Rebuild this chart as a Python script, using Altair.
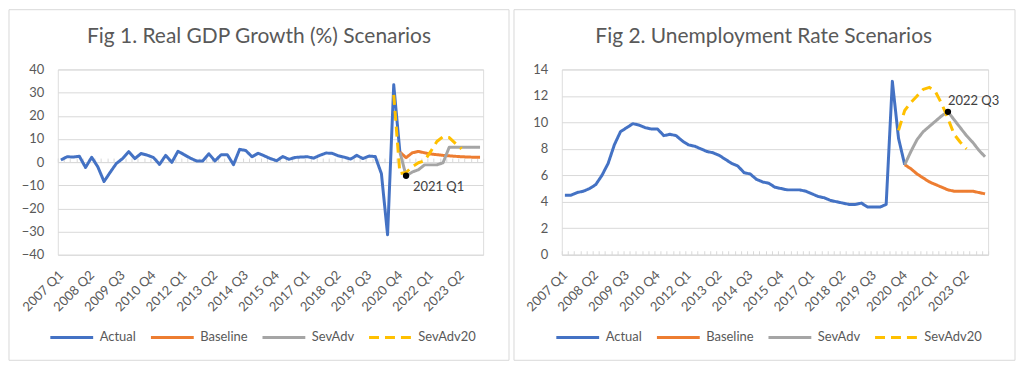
import altair as alt
import pandas as pd

# ---------------- data ----------------
quarters = [f"{y} Q{q}" for y in range(2007, 2025) for q in range(1, 5)][:69]
series_names = ["Actual", "Baseline", "SevAdv", "SevAdv20"]
series_colors = ["#4472C4", "#ED7D31", "#A5A5A5", "#FFC000"]

gdp_actual = [
    0.9, 2.3, 2.2, 2.5,
    -2.3, 2.1, -2.1, -8.4,
    -4.4, -0.6, 1.5, 4.5,
    1.5, 3.7, 3.0, 2.0,
    -1.0, 2.9, -0.1, 4.7,
    3.2, 1.7, 0.5, 0.5,
    3.6, 0.5, 3.2, 3.2,
    -1.1, 5.5, 5.0, 2.3,
    3.8, 2.7, 1.5, 0.6,
    2.4, 1.2, 2.0, 2.2,
    2.3, 1.7, 2.9, 3.9,
    3.8, 2.7, 2.1, 1.3,
    2.9, 1.5, 2.6, 2.4,
    -5.0, -31.4, 33.4, 4.3,
]
gdp_baseline = [4.3, 1.9, 4.0, 4.6, 4.0, 3.5, 3.2, 2.9, 2.7, 2.5, 2.3, 2.2, 2.1, 2.1]
gdp_sevadv = [4.3, -5.9, -4.3, -3.3, -1.2, -1.2, -1.2, -0.3, 6.4, 6.4, 6.4, 6.4, 6.4, 6.4]
gdp_sevadv20 = [29.0, -5.0, -4.5, -2.0, -0.3, 0.6, 4.6, 8.9, 11.0, 10.6, 8.1, 5.7]

ur_actual = [
    4.5, 4.5, 4.7, 4.8,
    5.0, 5.3, 6.0, 6.9,
    8.3, 9.3, 9.6, 9.9,
    9.8, 9.6, 9.5, 9.5,
    9.0, 9.1, 9.0, 8.6,
    8.3, 8.2, 8.0, 7.8,
    7.7, 7.5, 7.2, 6.9,
    6.7, 6.2, 6.1, 5.7,
    5.5, 5.4, 5.1, 5.0,
    4.9, 4.9, 4.9, 4.8,
    4.6, 4.4, 4.3, 4.1,
    4.0, 3.9, 3.8, 3.8,
    3.9, 3.6, 3.6, 3.6,
    3.8, 13.1, 8.8, 6.8,
]
ur_baseline = [6.8, 6.5, 6.1, 5.8, 5.5, 5.3, 5.1, 4.9, 4.8, 4.8, 4.8, 4.8, 4.7, 4.6]
ur_sevadv = [6.8, 7.8, 8.7, 9.3, 9.7, 10.1, 10.5, 10.8, 10.2, 9.6, 9.0, 8.5, 7.9, 7.4]
ur_sevadv20 = [9.4, 10.9, 11.5, 12.0, 12.5, 12.65, 12.3, 11.4, 10.3, 9.1, 8.5, 8.0]

start_actual, start_scen, start_scen20 = 0, 55, 54
tick_labels = quarters[::5]

FONT = "Lato"
TXT = "#595959"
GRID = "#D9D9D9"


def build(actual, baseline, sevadv, sevadv20):
    rows = []
    for name, vals, s in [("Actual", actual, start_actual), ("Baseline", baseline, start_scen),
                          ("SevAdv", sevadv, start_scen), ("SevAdv20", sevadv20, start_scen20)]:
        for k, v in enumerate(vals):
            rows.append({"idx": s + k, "quarter": quarters[s + k], "series": name, "value": v})
    return pd.DataFrame(rows)


label_expr = "[" + ",".join(f"'{q}'" for q in quarters) + "][datum.value]"
xscale = alt.Scale(domain=[-0.5, len(quarters) - 0.5], nice=False, zero=False)


def panel(df, title, ydomain, ystep, width, height, zero_pos, ann_q, ann_series, ann_dx, ann_dy,
          rect_l, rect_r, title_dx, legend_x):
    base_x_axis = alt.Axis(orient="bottom", values=[quarters.index(q) for q in tick_labels],
                           labelExpr=label_expr, labelAngle=-45, labelAlign="right",
                           labelBaseline="middle", labelPadding=18, ticks=False, domain=False,
                           grid=False, title=None, labelFontSize=13, labelColor=TXT, labelFont=FONT,
                           labelOverlap=False, labelBound=False, labelFlush=False)
    yaxis = alt.Axis(values=list(range(ydomain[0], ydomain[1] + 1, ystep)), grid=True,
                     gridColor=GRID, domain=False, ticks=False, tickSize=0, labelPadding=14,
                     title=None, labelFontSize=13, labelColor=TXT, labelFont=FONT,
                     labelOverlap=False, labelFlush=False)
    leg = alt.Legend(orient="none", legendX=legend_x, legendY=246, direction="horizontal",
                     columns=4, title=None, symbolType="stroke", symbolSize=1849,
                     symbolStrokeWidth=3, labelFontSize=13, labelColor=TXT, labelFont=FONT,
                     labelOffset=5, columnPadding=8, padding=0)

    one = pd.DataFrame({"a": [0]})
    border = alt.Chart(one).mark_rect(fill="transparent", stroke=GRID, strokeWidth=1).encode(
        x=alt.value(rect_l), x2=alt.value(width + rect_r), y=alt.value(-60), y2=alt.value(height + 106))
    ttl = alt.Chart(one).mark_text(font=FONT, fontSize=21, color=TXT, align="center",
                                   baseline="middle").encode(
        x=alt.value(width / 2 + title_dx), y=alt.value(-33), text=alt.value(title))

    yscale = alt.Scale(domain=list(ydomain), nice=False, zero=False)
    lines = alt.Chart(df).mark_line(strokeWidth=3, strokeJoin="round").encode(
        x=alt.X("idx:Q", scale=xscale, axis=base_x_axis),
        y=alt.Y("value:Q", scale=yscale, axis=yaxis),
        color=alt.Color("series:N", scale=alt.Scale(domain=series_names, range=series_colors),
                        legend=leg, sort=series_names),
        strokeDash=alt.StrokeDash("series:N", scale=alt.Scale(domain=series_names,
                                  range=[[1, 0], [1, 0], [1, 0], [10, 6]]), legend=leg,
                                  sort=series_names),
        order=alt.Order("idx:Q"),
    )

    ann = df[(df["quarter"] == ann_q) & (df["series"] == ann_series)]
    zero_axis = alt.Axis(orient="top", offset=-zero_pos,
                         values=[i - 0.5 for i in range(len(quarters) + 1)],
                         labels=False, ticks=True, tickSize=4, tickColor=GRID, domain=True,
                         domainColor=GRID, grid=False, title=None)
    dot = alt.Chart(ann).mark_point(filled=True, color="black", size=40, opacity=1).encode(
        x=alt.X("idx:Q", scale=xscale, axis=zero_axis),
        y=alt.Y("value:Q", scale=yscale, axis=yaxis),
    )
    lab = alt.Chart(ann).mark_text(align="left", baseline="middle", dx=ann_dx, dy=ann_dy,
                                   font=FONT, fontSize=13, color="#404040").encode(
        x=alt.X("idx:Q", scale=xscale, axis=None),
        y=alt.Y("value:Q", scale=yscale, axis=yaxis),
        text="quarter:N")

    return alt.layer(border, ttl, lines, dot, lab).resolve_axis(x="independent").properties(
        width=width, height=height)


gdp_df = build(gdp_actual, gdp_baseline, gdp_sevadv, gdp_sevadv20)
ur_df = build(ur_actual, ur_baseline, ur_sevadv, ur_sevadv20)

p1 = panel(gdp_df, "Fig 1. Real GDP Growth (%) Scenarios", (-40, 40), 10, 427, 186, 93,
           "2021 Q1", "SevAdv", 7, 11, -49, 26, -11.5, -9)
p2 = panel(ur_df, "Fig 2. Unemployment Rate Scenarios", (0, 14), 2, 428, 186, 186,
           "2022 Q3", "SevAdv", 0, -11, -48, 27, -11.3, -7)

chart = alt.hconcat(p1, p2, spacing=3).resolve_scale(
    color="independent", strokeDash="independent").resolve_legend(
    color="independent", strokeDash="independent").properties(padding=0).configure_view(
    stroke=None).configure(font=FONT)

chart.save("out.html", embed_options={"renderer": "svg", "actions": False})
